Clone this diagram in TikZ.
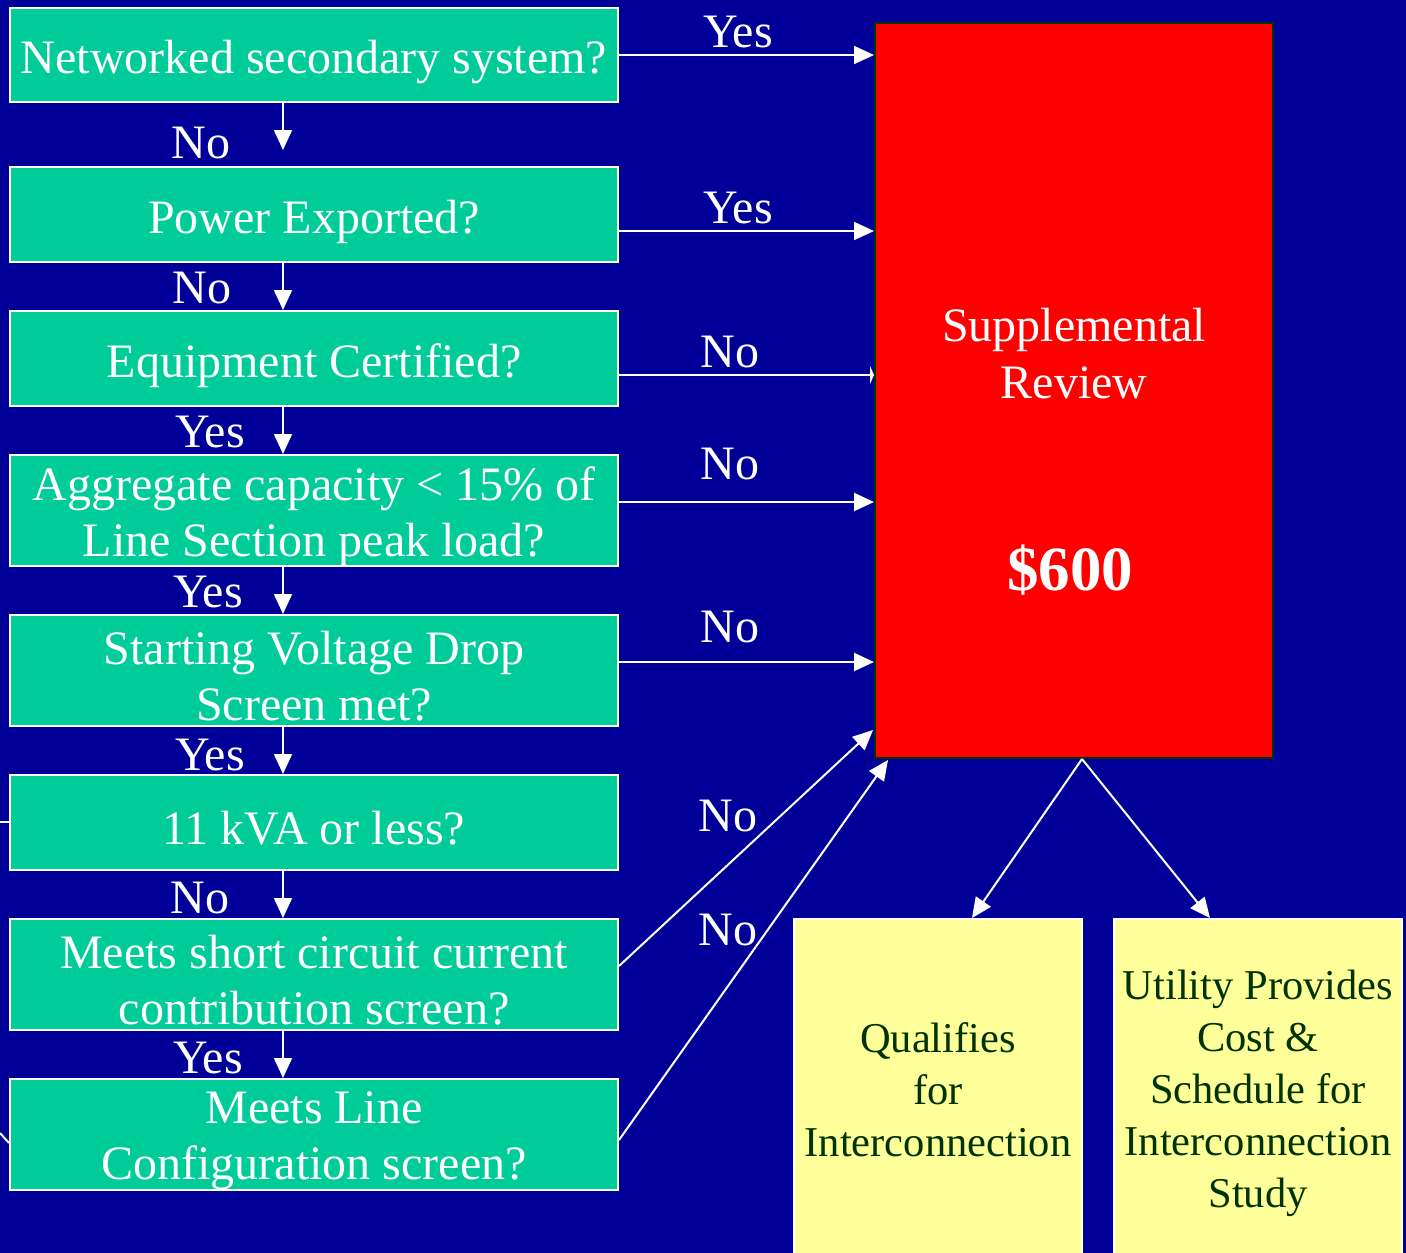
\documentclass[tikz,border=0pt]{standalone}
\usepackage{fontspec}
\setmainfont{Liberation Serif}
\usetikzlibrary{arrows.meta}
\definecolor{bgblue}{HTML}{000099}
\definecolor{boxgreen}{HTML}{00CC99}
\definecolor{boxred}{HTML}{FF0000}
\definecolor{boxyellow}{HTML}{FFFF99}
\definecolor{darkgreen}{HTML}{003300}
\tikzset{
  qbox/.style={draw=white, line width=2pt, fill=boxgreen, minimum width=608pt, inner sep=0pt},
  qtext/.style={text=white, align=center, inner sep=0pt, font=\fontsize{48}{56}\selectfont},
  ybox/.style={draw=white, line width=2pt, fill=boxyellow, text=darkgreen, align=center,
    minimum width=288pt, minimum height=342pt, inner sep=0pt,
    font=\fontsize{42.5}{52}\selectfont},
  lbl/.style={text=white, inner sep=0pt, font=\fontsize{48}{56}\selectfont},
  arr/.style={draw=white, line width=2pt, -{Triangle[length=20pt,width=18pt]}},
  plain/.style={draw=white, line width=2pt},
}
\begin{document}
\begin{tikzpicture}[x=1pt,y=-1pt]
\fill[bgblue] (0,0) rectangle (1406,1253);
\useasboundingbox (0,0) rectangle (1406,1253);

% question boxes
\node[qbox, minimum height=94pt]  (b1) at (314,55)    {};
\node[qbox, minimum height=95pt]  (b2) at (314,214.5) {};
\node[qbox, minimum height=95pt]  (b3) at (314,358.5) {};
\node[qbox, minimum height=111pt] (b4) at (314,510.5) {};
\node[qbox, minimum height=111pt] (b5) at (314,670.5) {};
\node[qbox, minimum height=95pt]  (b6) at (314,822.5) {};
\node[qbox, minimum height=111pt] (b7) at (314,974.5) {};
\node[qbox, minimum height=111pt] (b8) at (314,1134.5) {};
\node[qtext] (t1) at ([yshift=-7pt]b1.center) {Networked secondary system?};
\node[qtext] (t2) at ([yshift=-7pt]b2.center) {Power Exported?};
\node[qtext] (t3) at ([yshift=-7pt]b3.center) {Equipment Certified?};
\node[qtext] (t4) at ([yshift=-6pt]b4.center) {Aggregate capacity < 15\% of\\Line Section peak load?};
\node[qtext] (t5) at ([yshift=-6pt]b5.center) {Starting Voltage Drop\\Screen met?};
\node[qtext] (t6) at ([yshift=-6pt]b6.center) {11 kVA or less?};
\node[qtext] (t7) at ([yshift=-6pt]b7.center) {Meets short circuit current\\contribution screen?};
\node[qtext] (t8) at ([yshift=-6pt]b8.center) {Meets Line\\Configuration screen?};

% supplemental review
\node[draw=darkgreen, line width=2pt, fill=boxred, minimum width=398pt, minimum height=735pt, inner sep=0pt]
  (red) at (1074,390.5) {};
\node[text=white, align=center, font=\fontsize{48}{57}\selectfont] (redtxt) at (1074,354) {Supplemental\\Review};
\node[text=white, font=\fontsize{63}{70}\bfseries\selectfont] (price) at (1070,570) {\$600};

% outcome boxes
\node[ybox] (q) at (938,1090) {Qualifies\\for\\Interconnection};
\node[ybox] (u) at (1258,1090) {};
\node[text=darkgreen, align=center, inner sep=0pt, font=\fontsize{42.5}{52}\selectfont]
  (ut) at (1258,1093) {Utility Provides\\Cost \&\\Schedule for\\Interconnection\\Study};

% vertical arrows
\coordinate (endA) at (283,150);
\draw[arr] (b1.south -| endA) -- (endA);
\draw[arr] (b2.south -| endA) -- (b3.north -| endA);
\draw[arr] (b3.south -| endA) -- (b4.north -| endA);
\draw[arr] (b4.south -| endA) -- (b5.north -| endA);
\draw[arr] (b5.south -| endA) -- (b6.north -| endA);
\draw[arr] (b6.south -| endA) -- (b7.north -| endA);
\draw[arr] (b7.south -| endA) -- (b8.north -| endA);

% horizontal arrows to supplemental review
\draw[arr] (b1.east) -- (b1.east -| red.west);
\draw[arr] (b2.east |- 0,231) -- (red.west |- 0,231);
\draw[draw=white, line width=2pt, -{Triangle[length=4pt,width=18pt]}] (b3.east |- 0,375) -- (red.west |- 0,375);
\draw[arr] (b4.east |- 0,502) -- (red.west |- 0,502);
\draw[arr] (b5.east |- 0,662) -- (red.west |- 0,662);
\coordinate (e7) at (873,730);
\coordinate (e8) at (888,760);
\draw[arr] (b7.east |- 0,966) -- (e7);
\draw[arr] (b8.east |- 0,1140) -- (e8);

% arrows to outcomes
\coordinate (rb) at (1082,759);
\draw[arr] (rb) -- (q.north -| 972,0);
\draw[arr] (rb) -- (u.north -| 1210,0);

% stubs at left edge
\coordinate (s6) at (0,822);
\coordinate (s8) at (0,1133);
\draw[plain] (s6) -- (b6.west |- s6);
\draw[plain] (s8) -- (b8.west |- 0,1143);

% labels
\node[lbl] (l1)  at (738,32)   {Yes};
\node[lbl] (l2)  at (201,143)  {No};
\node[lbl] (l3)  at (738,208)  {Yes};
\node[lbl] (l4)  at (202,288)  {No};
\node[lbl] (l5)  at (730,352)  {No};
\node[lbl] (l6)  at (210,432)  {Yes};
\node[lbl] (l7)  at (730,464)  {No};
\node[lbl] (l8)  at (208,592)  {Yes};
\node[lbl] (l9)  at (730,627)  {No};
\node[lbl] (l10) at (210,755)  {Yes};
\node[lbl] (l11) at (728,816)  {No};
\node[lbl] (l12) at (200,898)  {No};
\node[lbl] (l13) at (728,930)  {No};
\node[lbl] (l14) at (208,1058) {Yes};
\end{tikzpicture}
\end{document}
